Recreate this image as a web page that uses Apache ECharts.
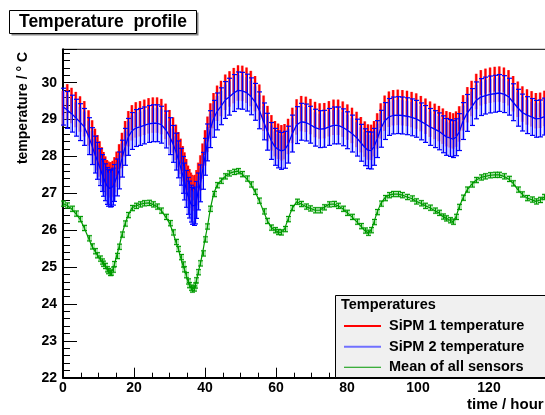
<!DOCTYPE html>
<html><head><meta charset="utf-8">
<script src="https://cdn.jsdelivr.net/npm/echarts@6/dist/echarts.min.js"></script>
<style>html,body{margin:0;padding:0;background:#fff}#c{width:545px;height:415px}</style>
</head><body><div id="c"></div>
<script>
// ---- data (time in hours, temperatures in deg C) ----
const time = [0.0,1.2,2.4,3.6,4.8,6.0,7.2,8.2,9.0,9.7,10.3,10.9,11.4,11.9,12.4,12.8,13.2,13.6,14.0,14.5,15.1,15.8,16.6,17.5,18.4,19.4,20.5,21.7,22.9,24.1,25.3,26.5,27.7,28.9,30.0,31.0,31.8,32.5,33.1,33.7,34.2,34.7,35.2,35.6,36.0,36.4,36.8,37.2,37.6,38.1,38.7,39.3,40.0,40.7,41.5,42.4,43.4,44.5,45.7,46.9,48.1,49.3,50.5,51.7,52.9,54.1,55.3,56.5,57.6,58.7,59.7,60.6,61.5,62.4,63.4,64.6,65.8,67.1,68.4,69.7,71.0,72.3,73.6,74.9,76.2,77.5,78.8,80.1,81.4,82.7,83.9,85.0,85.9,86.8,87.6,88.5,89.5,90.6,91.8,93.0,94.3,95.6,96.9,98.2,99.5,100.8,102.1,103.4,104.7,105.9,107.0,108.0,109.0,109.9,110.7,111.6,112.7,113.9,115.1,116.4,117.7,119.0,120.3,121.6,122.9,124.2,125.5,126.8,128.1,129.4,130.7,132.0,133.2,134.4,135.6];
const sipm1 = [29.3,29.48,29.38,29.27,29.15,29.02,28.77,28.5,28.27,28.1,27.93,27.77,27.64,27.52,27.42,27.38,27.36,27.37,27.4,27.5,27.65,27.85,28.16,28.48,28.75,28.91,28.99,29.02,29.06,29.1,29.12,29.12,29.08,28.95,28.78,28.58,28.38,28.18,28.0,27.8,27.63,27.45,27.27,27.18,27.08,27.02,27.0,27.02,27.15,27.35,27.55,27.87,28.23,28.6,28.96,29.24,29.44,29.57,29.74,29.83,29.92,29.99,29.98,29.93,29.84,29.7,29.47,29.17,28.89,28.64,28.48,28.41,28.37,28.4,28.54,28.84,29.07,29.16,29.14,29.08,29.0,28.96,28.97,29.02,29.06,29.06,29.01,28.93,28.84,28.73,28.59,28.47,28.39,28.38,28.48,28.69,28.96,29.17,29.28,29.32,29.33,29.32,29.3,29.27,29.23,29.16,29.09,29.01,28.95,28.89,28.82,28.75,28.72,28.69,28.74,28.88,29.18,29.4,29.57,29.76,29.86,29.9,29.93,29.95,29.96,29.93,29.86,29.7,29.55,29.42,29.34,29.29,29.24,29.25,29.3];
const sipm2 = [29.35,29.26,29.16,29.05,28.93,28.8,28.55,28.28,28.05,27.88,27.71,27.55,27.42,27.3,27.2,27.15,27.13,27.14,27.18,27.28,27.43,27.62,27.94,28.26,28.53,28.69,28.77,28.8,28.84,28.88,28.9,28.9,28.86,28.73,28.55,28.34,28.13,27.92,27.72,27.5,27.32,27.12,26.93,26.83,26.72,26.66,26.63,26.67,26.82,27.05,27.27,27.61,27.99,28.38,28.74,29.02,29.22,29.36,29.53,29.62,29.72,29.79,29.78,29.73,29.63,29.48,29.25,28.95,28.67,28.42,28.26,28.19,28.15,28.18,28.32,28.62,28.85,28.94,28.92,28.86,28.78,28.74,28.75,28.8,28.84,28.84,28.79,28.71,28.62,28.51,28.37,28.25,28.17,28.16,28.26,28.47,28.75,28.96,29.07,29.11,29.12,29.11,29.09,29.06,29.02,28.95,28.88,28.8,28.74,28.68,28.6,28.53,28.5,28.47,28.52,28.66,28.96,29.18,29.34,29.52,29.61,29.65,29.68,29.7,29.72,29.69,29.62,29.47,29.32,29.19,29.12,29.07,29.02,29.03,29.08];
const meanAll = [26.72,26.67,26.58,26.45,26.3,26.06,25.78,25.56,25.43,25.32,25.23,25.15,25.09,25.03,24.94,24.89,24.84,24.85,24.93,25.08,25.3,25.55,25.88,26.18,26.41,26.6,26.66,26.7,26.73,26.74,26.7,26.64,26.53,26.36,26.19,25.94,25.68,25.49,25.27,25.07,24.94,24.78,24.61,24.51,24.44,24.39,24.42,24.5,24.64,24.86,25.1,25.37,25.75,26.1,26.58,26.98,27.22,27.34,27.46,27.54,27.58,27.6,27.52,27.4,27.24,27.04,26.8,26.51,26.25,26.07,26.0,25.95,25.94,26.03,26.3,26.6,26.77,26.71,26.64,26.59,26.54,26.54,26.62,26.7,26.71,26.66,26.58,26.47,26.36,26.23,26.11,25.99,25.93,26.0,26.22,26.49,26.72,26.87,26.95,26.98,26.98,26.95,26.9,26.86,26.78,26.73,26.66,26.61,26.53,26.47,26.37,26.32,26.27,26.23,26.36,26.63,26.88,27.1,27.24,27.36,27.43,27.46,27.49,27.5,27.5,27.46,27.39,27.27,27.1,26.97,26.87,26.83,26.78,26.82,26.9];
const sipm1Err = 0.48;
const sipm2Err = 0.5;
const meanErr = 0.07;
const seriesNames = ['SiPM 1 temperature','SiPM 2 temperature','Mean of all sensors'];
const titleText = 'Temperature  profile';
const legendTitle = 'Temperatures';
const yTitle = 'temperature / \u00b0 C';
const xTitle = 'time / hour';

const FONT = '"Liberation Sans", Arial, Helvetica, sans-serif';
function withErr(vals, err){ return time.map((t,i)=>[t, vals[i], err]); }

function redItem(params, api){
  const x=api.value(0), c=api.value(1), e=api.value(2);
  const a=api.coord([x,c+e]), b=api.coord([x,c-e]);
  return {type:'group', children:[
    {type:'rect', shape:{x:a[0]-1.5, y:a[1], width:3, height:b[1]-a[1]}, style:{fill:'rgba(255,110,110,0.7)'}},
    {type:'rect', shape:{x:a[0]-1, y:a[1], width:2, height:(b[1]-a[1])*0.7}, style:{fill:'#ff0000'}}
  ]};
}
function blueItem(params, api){
  const x=api.value(0), c=api.value(1), e=api.value(2);
  const a=api.coord([x,c+e]), b=api.coord([x,c-e]);
  const px=Math.round(a[0])+0.5;
  return {type:'group', children:[
    {type:'rect', shape:{x:a[0]-1.5, y:a[1]+3, width:3, height:b[1]-a[1]-3}, style:{fill:'rgba(40,40,255,0.42)'}},
    {type:'line', shape:{x1:px, y1:a[1], x2:px, y2:b[1]}, style:{stroke:'#0000ff', lineWidth:1}},
    {type:'line', shape:{x1:px-2.5, y1:a[1], x2:px+2.5, y2:a[1]}, style:{stroke:'#0000ff', lineWidth:1.2}},
    {type:'line', shape:{x1:px-2.5, y1:b[1], x2:px+2.5, y2:b[1]}, style:{stroke:'#0000ff', lineWidth:1.2}}
  ]};
}
function greenItem(params, api){
  const x=api.value(0), c=api.value(1), e=api.value(2);
  const a=api.coord([x,c+e]), b=api.coord([x,c-e]);
  const px=Math.round(a[0])+0.5;
  return {type:'group', children:[
    {type:'rect', shape:{x:px-2.5, y:a[1]-1, width:5, height:b[1]-a[1]+2}, style:{fill:'rgba(0,170,0,0.3)'}},
    {type:'line', shape:{x1:px, y1:a[1], x2:px, y2:b[1]}, style:{stroke:'#009900', lineWidth:1}},
    {type:'line', shape:{x1:px-2.5, y1:a[1], x2:px+2.5, y2:a[1]}, style:{stroke:'#009900', lineWidth:1}},
    {type:'line', shape:{x1:px-2.5, y1:b[1], x2:px+2.5, y2:b[1]}, style:{stroke:'#009900', lineWidth:1}}
  ]};
}

const chart = echarts.init(document.getElementById('c'), null, {renderer:'canvas'});
const legendBase = {orient:'vertical', left:344, padding:0, itemWidth:37, icon:'rect', selectedMode:false, z:80,
  textStyle:{fontFamily:FONT, fontWeight:'bold', fontSize:14.5, color:'#000', lineHeight:15, padding:[0,0,0,3]}};
chart.setOption({
  animation:false,
  backgroundColor:'#fff',
  grid:{left:63, top:49.3, width:497, bottom:37.3, outerBoundsMode:'none', containLabel:false, show:true, borderColor:'#000', borderWidth:1, backgroundColor:'transparent'},
  xAxis:{type:'value', min:0, max:140, interval:20,
    axisLine:{lineStyle:{color:'#000', width:2}},
    axisTick:{inside:true, length:10, lineStyle:{color:'#000'}},
    minorTick:{show:true, splitNumber:4, length:5, lineStyle:{color:'#000'}},
    splitLine:{show:false},
    axisLabel:{showMaxLabel:false, margin:3, color:'#000', fontFamily:FONT, fontWeight:'bold', fontSize:14}},
  yAxis:{type:'value', min:22, max:30.905, interval:1,
    axisLine:{lineStyle:{color:'#000', width:2}},
    axisTick:{inside:true, length:14, lineStyle:{color:'#000'}},
    minorTick:{show:true, splitNumber:5, length:7, lineStyle:{color:'#000'}},
    splitLine:{show:false},
    axisLabel:{showMaxLabel:false, margin:6, color:'#000', fontFamily:FONT, fontWeight:'bold', fontSize:14}},
  legend:[
    Object.assign({}, legendBase, {top:318.5, itemHeight:2, data:[{name:seriesNames[0], itemStyle:{color:'#ff0000'}}]}),
    Object.assign({}, legendBase, {top:339.2, itemHeight:2, data:[{name:seriesNames[1], itemStyle:{color:'#7070ff'}}]}),
    Object.assign({}, legendBase, {top:359.8, itemHeight:1, data:[{name:seriesNames[2], itemStyle:{color:'#009900'}}]})
  ],
  graphic:[
    {type:'rect', z:100, shape:{x:11.5, y:12.5, width:187, height:23}, style:{fill:'#888'}},
    {type:'rect', z:101, shape:{x:9.5, y:10.5, width:187, height:23}, style:{fill:'#fff', stroke:'#000', lineWidth:1}},
    {type:'text', z:102, x:19, y:22.5, style:{text:titleText, fontFamily:FONT, fontWeight:'bold', fontSize:17.5, fill:'#000', textVerticalAlign:'middle'}},
    {type:'text', z:102, x:23, y:108, rotation:Math.PI/2, style:{text:yTitle, fontFamily:FONT, fontWeight:'bold', fontSize:14, fill:'#000', textAlign:'center', textVerticalAlign:'middle'}},
    {type:'text', z:102, x:467, y:405, style:{text:xTitle, fontFamily:FONT, fontWeight:'bold', fontSize:15, fill:'#000', textVerticalAlign:'middle'}},
    {type:'rect', z:50, shape:{x:335.5, y:295.5, width:215, height:82}, style:{fill:'#f0f0f0', stroke:'#000', lineWidth:1}},
    {type:'text', z:51, x:341, y:305, style:{text:legendTitle, fontFamily:FONT, fontWeight:'bold', fontSize:14.5, fill:'#000', textVerticalAlign:'middle'}}
  ],
  series:[
    {name:seriesNames[0], type:'custom', renderItem:redItem, data:withErr(sipm1, sipm1Err), encode:{x:0,y:1}, z:2, itemStyle:{color:'#ff0000'}},
    {name:seriesNames[1], type:'custom', renderItem:blueItem, data:withErr(sipm2, sipm2Err), encode:{x:0,y:1}, z:3, itemStyle:{color:'#7070ff'}},
    {name:seriesNames[1], type:'line', data:time.map((t,i)=>[t,sipm2[i]]), showSymbol:false, z:4, lineStyle:{color:'#0000ff', width:1.3}, itemStyle:{color:'#7070ff'}},
    {name:seriesNames[2], type:'custom', renderItem:greenItem, data:withErr(meanAll, meanErr), encode:{x:0,y:1}, z:5, itemStyle:{color:'#009900'}},
    {name:seriesNames[2], type:'line', data:time.map((t,i)=>[t,meanAll[i]]), showSymbol:false, z:6, lineStyle:{color:'#009900', width:1.2}, itemStyle:{color:'#009900'}}
  ]
});
</script></body></html>
